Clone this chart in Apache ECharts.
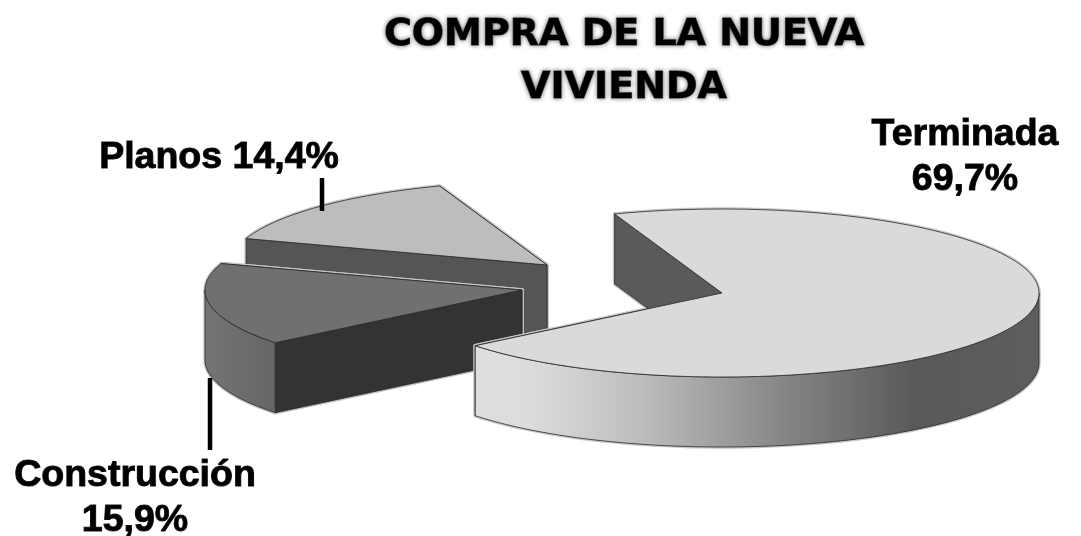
<!DOCTYPE html>
<html><head><meta charset="utf-8">
<style>html,body{margin:0;padding:0;background:#fff}#c{width:1081px;height:536px}</style>
<script src="https://cdn.jsdelivr.net/npm/echarts@6/dist/echarts.min.js"></script>
</head><body><div id="c"></div>
<script>
const titleText = 'COMPRA DE LA NUEVA\nVIVIENDA';
const categories = ['Terminada', 'Construcción', 'Planos'];
const values = [69.7, 15.9, 14.4];
const labelTexts = ['Terminada\n69,7%', 'Construcción\n15,9%', 'Planos 14,4%'];

// presentation of the pseudo-3D pie
const geom = { rx: 317, ry: 84, depth: 70, start: -19.8 };
const apex = [[722, 293], [522, 290], [547, 265]];
const topColor = ['#dadada', '#707070', '#bdbdbd'];
const radialColor = [['#5a5a5a', '#333'], ['#333333', '#555'], ['#555555', '#535353']];
const wallColor = [
  [[0, '#dedede'], [0.1, '#dcdcdc'], [0.3, '#bcbcbc'], [0.55, '#858585'], [0.78, '#595959'], [1, '#5e5e5e']],
  [[0, '#747474'], [1, '#666666']],
  [[0, '#888888'], [1, '#888888']]
];
const labelPos = [[965, 157], [135, 498], [219, 158]];
const leader = [null, [210, 378, 210, 450], [322, 178, 322, 211]];

const total = values.reduce((a, b) => a + b, 0);
const haloColor = '#c6c6c6', edgeColor = '#2a2a2a';

function pt(c, t, dz) {
  const r = t * Math.PI / 180;
  return [c[0] + geom.rx * Math.sin(r), c[1] - geom.ry * Math.cos(r) + (dz || 0)];
}
function arc(c, a, b, dz) {
  const out = [], n = Math.max(2, Math.ceil((b - a) / 2));
  for (let i = 0; i <= n; i++) out.push(pt(c, a + (b - a) * i / n, dz));
  return out;
}
function poly(points, fill) {
  return { type: 'polygon', silent: true, shape: { points },
    style: { fill, stroke: edgeColor, lineWidth: 0.8, lineJoin: 'round' } };
}
function renderItem(params, api) {
  const i = api.value(1), v = api.value(0);
  let a = geom.start;
  for (let k = 0; k < i; k++) a += values[k] / total * 360;
  const b = a + v / total * 360, c = apex[i], d = geom.depth;
  const shapes = [];
  const below = [c[0], c[1] + d];
  shapes.push(poly([c, pt(c, b), pt(c, b, d), below], radialColor[i][1]));
  shapes.push(poly([c, pt(c, a), pt(c, a, d), below], radialColor[i][0]));
  const fa = Math.max(a, 90), fb = Math.min(b, 270);
  if (fb > fa) {
    const wall = arc(c, fa, fb, 0).concat(arc(c, fa, fb, d).reverse());
    shapes.push(poly(wall, { type: 'linear', x: 0, y: 0, x2: 1, y2: 0,
      colorStops: wallColor[i].map(s => ({ offset: s[0], color: s[1] })) }));
  }
  shapes.push(poly([c].concat(arc(c, a, b, 0)), topColor[i]));
  const halos = shapes.map(s => ({ type: 'polygon', silent: true, shape: s.shape,
    style: { fill: 'none', stroke: haloColor, lineWidth: 3.5, lineJoin: 'round' } }));
  const children = halos.concat(shapes);
  if (leader[i]) {
    const l = leader[i];
    children.push({ type: 'line', silent: true, shape: { x1: l[0], y1: l[1], x2: l[2], y2: l[3] },
      style: { stroke: '#000', lineWidth: 4.5 } });
  }
  children.push({ type: 'text', silent: true, x: labelPos[i][0], y: labelPos[i][1],
    style: { text: labelTexts[i], fill: '#000', stroke: '#222', lineWidth: 1,
      shadowColor: '#777', shadowBlur: 4,
      font: 'bold 37.5px "Liberation Sans"', align: 'center', verticalAlign: 'middle', lineHeight: 45 } });
  return { type: 'group', children };
}
const chart = echarts.init(document.getElementById('c'), null, { renderer: 'canvas' });
chart.setOption({
  animation: false,
  backgroundColor: '#fff',
  title: { text: titleText, left: 619, top: 4, textAlign: 'center',
    textStyle: { color: '#000', textBorderColor: '#222', textBorderWidth: 1,
      textShadowColor: '#777', textShadowBlur: 4,
      fontFamily: 'DejaVu Sans', fontWeight: 'bold', fontSize: 38, lineHeight: 53 } },
  series: [{
    type: 'custom', coordinateSystem: 'none', renderItem,
    dimensions: ['value', 'slice'],
    data: values.map((v, i) => ({ name: categories[i], value: [v, i] })).reverse()
  }]
});
</script></body></html>
